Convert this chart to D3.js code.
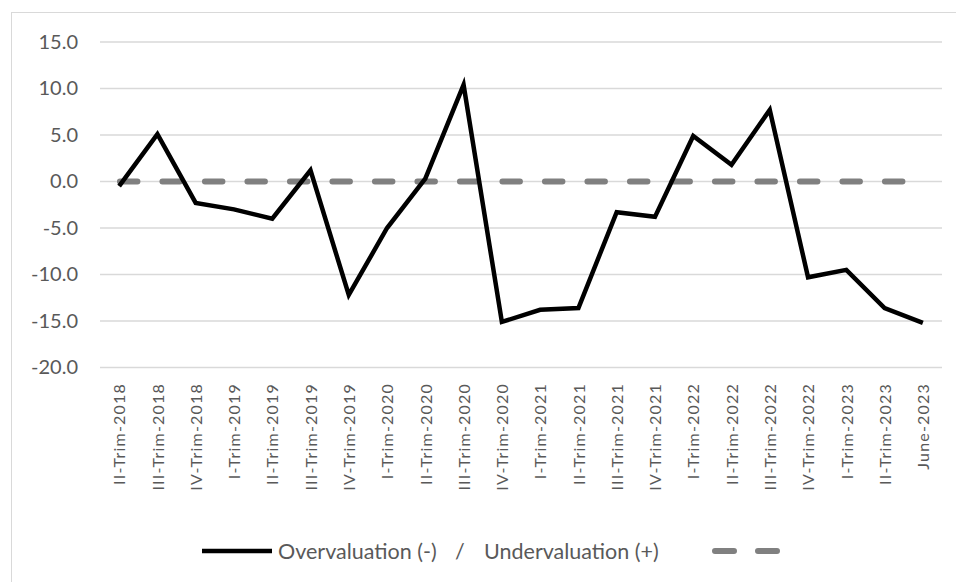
<!DOCTYPE html>
<html>
<head>
<meta charset="utf-8">
<script src="https://cdn.jsdelivr.net/npm/d3@7"></script>
<style>
  body { margin: 0; background: #fff; }
  svg { display: block; font-family: Lato, "Open Sans", sans-serif; }
</style>
</head>
<body>
<div id="chart"></div>
<script>
var categories = ["II-Trim-2018", "III-Trim-2018", "IV-Trim-2018", "I-Trim-2019", "II-Trim-2019", "III-Trim-2019",
  "IV-Trim-2019", "I-Trim-2020", "II-Trim-2020", "III-Trim-2020", "IV-Trim-2020", "I-Trim-2021", "II-Trim-2021",
  "III-Trim-2021", "IV-Trim-2021", "I-Trim-2022", "II-Trim-2022", "III-Trim-2022", "IV-Trim-2022", "I-Trim-2023",
  "II-Trim-2023", "June-2023"];
var valuation = [-0.5, 5.1, -2.3, -3.0, -4.0, 1.2, -12.2, -5.0, 0.3, 10.4, -15.1, -13.8, -13.6,
  -3.3, -3.8, 4.9, 1.8, 7.7, -10.3, -9.5, -13.6, -15.2];
var reference = [0, 0, 0, 0, 0, 0, 0, 0, 0, 0, 0, 0, 0, 0, 0, 0, 0, 0, 0, 0, 0, 0];
var yTicks = [-20, -15, -10, -5, 0, 5, 10, 15];
var seriesName = "Overvaluation (-)";
var seriesName2 = "Undervaluation (+)";

var w = 956, h = 582;
var svg = d3.select("#chart").append("svg")
  .attr("width", w)
  .attr("height", h);

// chart area border (only top + left visible in the original)
svg.append("rect")
  .attr("x", 11.5).attr("y", 12.5)
  .attr("width", 960).attr("height", 600)
  .attr("fill", "none")
  .attr("stroke", "#d9d9d9")
  .attr("stroke-width", 1);

var x = d3.scalePoint()
  .domain(categories)
  .range([100, 942])
  .padding(0.5);

var y = d3.scaleLinear()
  .domain([-20, 15])
  .range([367.5, 42]);

// gridlines
svg.append("g")
  .selectAll("line")
  .data(yTicks)
  .enter()
  .append("line")
  .attr("x1", 100)
  .attr("x2", 942)
  .attr("y1", function(d) { return y(d); })
  .attr("y2", function(d) { return y(d); })
  .attr("stroke", "#d9d9d9")
  .attr("stroke-width", 1.3);

// y axis labels
var yAxis = d3.axisLeft(y)
  .tickValues(yTicks)
  .tickSize(0)
  .tickPadding(0)
  .tickFormat(function(d) { return d.toFixed(1); });

var gy = svg.append("g")
  .attr("transform", "translate(78,0)")
  .call(yAxis);
gy.select(".domain").remove();
gy.selectAll("text")
  .attr("fill", "#595959")
  .style("font-size", "20px")
  .style("font-family", "Lato, sans-serif");

// x axis labels (rotated)
var xAxis = d3.axisBottom(x).tickSize(0).tickPadding(0);
var gx = svg.append("g")
  .attr("transform", "translate(0,383)")
  .call(xAxis);
gx.select(".domain").remove();
gx.selectAll("text")
  .attr("fill", "#595959")
  .attr("transform", "rotate(-90)")
  .attr("text-anchor", "end")
  .attr("x", 0)
  .attr("y", 0)
  .attr("dy", "0.36em")
  .style("font-size", "16px")
  .style("letter-spacing", "1.2px")
  .style("font-family", "Lato, sans-serif");

// dashed reference line
var line = d3.line()
  .x(function(d, i) { return x(categories[i]); })
  .y(function(d) { return y(d); });

svg.append("path")
  .datum(reference)
  .attr("d", line)
  .attr("fill", "none")
  .attr("stroke", "#808080")
  .attr("stroke-width", 6)
  .attr("stroke-linecap", "round")
  .attr("stroke-dasharray", "17.5,25")
  .attr("transform", "translate(0.8,0)");

// main series
svg.append("path")
  .datum(valuation)
  .attr("d", line)
  .attr("fill", "none")
  .attr("stroke", "#000")
  .attr("stroke-width", 4.5)
  .attr("stroke-linejoin", "miter");

// legend
var legend = svg.append("g").attr("transform", "translate(0,551)");
legend.append("line")
  .attr("x1", 202).attr("x2", 272)
  .attr("stroke", "#000")
  .attr("stroke-width", 4.5);
legend.append("text")
  .attr("x", 278).attr("dy", "0.35em")
  .attr("fill", "#595959")
  .style("font-size", "21.5px")
  .text(seriesName);
legend.append("text")
  .attr("x", 455).attr("dy", "0.35em")
  .attr("fill", "#595959")
  .style("font-size", "21.5px")
  .text("/");
legend.append("text")
  .attr("x", 484).attr("dy", "0.35em")
  .attr("fill", "#595959")
  .style("font-size", "21.5px")
  .text(seriesName2);
legend.append("line")
  .attr("x1", 715).attr("x2", 777)
  .attr("stroke", "#808080")
  .attr("stroke-width", 6)
  .attr("stroke-linecap", "round")
  .attr("stroke-dasharray", "19,24");
</script>
</body>
</html>
